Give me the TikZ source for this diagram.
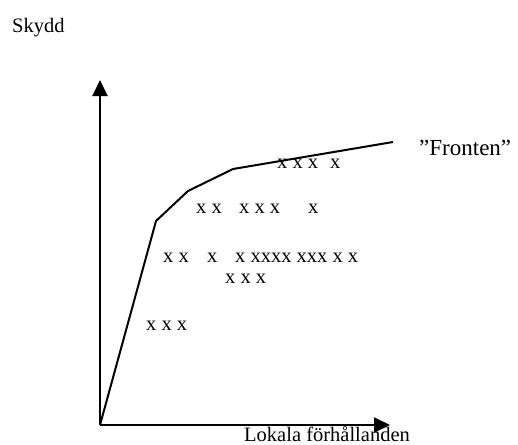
\documentclass[tikz,border=0pt]{standalone}
\usepackage{fontspec}
\setmainfont{Liberation Serif}
\usetikzlibrary{arrows.meta}
\begin{document}
\begin{tikzpicture}[x=1pt,y=-1pt,
  lbl/.style={inner sep=0pt,anchor=base west,font=\fontsize{20.5}{24}\selectfont},
  axis/.style={line width=2pt,-{Triangle[length=16pt,width=15pt]}},
  front/.style={line width=2pt,line join=miter}]
\useasboundingbox (0,0) rectangle (518,444);
\coordinate (O) at (100,425);
\coordinate (ytip) at (100,80);
\coordinate (xtip) at (390,425);
\coordinate (f1) at (156,221);
\coordinate (f2) at (188,191);
\coordinate (f3) at (233,169);
\coordinate (f4) at (393,142);
\draw[axis] (O) -- (ytip);
\draw[axis] (O) -- (xtip);
\draw[front] (O) -- (f1) -- (f2) -- (f3) -- (f4);
\node[lbl] (skydd) at (12,33) {Skydd};
\node[lbl] (xlab) at (244,441) {Lokala förhållanden};
\node[lbl,font=\fontsize{23}{27}\selectfont] (fronten) at (419,155) {”Fronten”};
\node[lbl] (a1) at (277,168) {x x x};
\node[lbl] (a2) at (330,168) {x};
\node[lbl] (b1) at (196,213) {x x};
\node[lbl] (b2) at (239,213) {x x x};
\node[lbl] (b3) at (308,213) {x};
\node[lbl] (c1) at (163,262) {x x};
\node[lbl] (c2) at (207,262) {x};
\node[lbl] (c3) at (235,262) {x xxxx xxx x x};
\node[lbl] (d1) at (225,283) {x x x};
\node[lbl] (e1) at (146,330) {x x x};
\end{tikzpicture}
\end{document}
